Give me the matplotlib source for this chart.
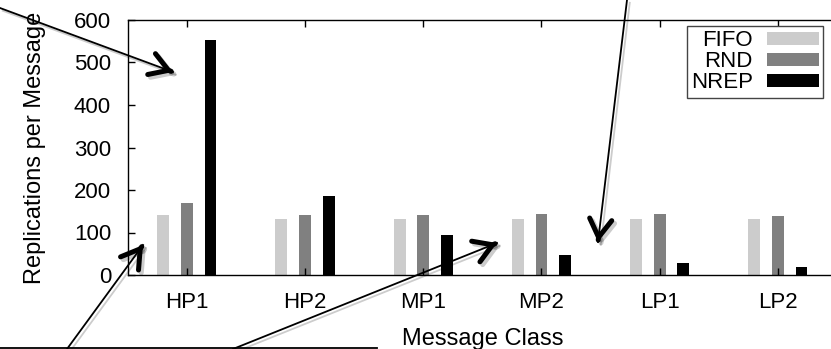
import matplotlib
matplotlib.use("Agg")
import matplotlib.pyplot as plt
import matplotlib.patheffects as pe
from matplotlib.patches import FancyArrowPatch
from matplotlib.lines import Line2D
import numpy as np

plt.rcParams['font.family'] = ['Liberation Sans', 'DejaVu Sans']

# data
classes = ["HP1", "HP2", "MP1", "MP2", "LP1", "LP2"]
fifo = [141, 132, 132, 132, 132, 132]
rnd = [169, 141, 141, 144, 144, 139]
nrep = [553, 186, 94, 47, 28, 19]
series_names = ["FIFO", "RND", "NREP"]
colors = ["#cccccc", "#808080", "#000000"]

W, H = 831, 349
fig = plt.figure(figsize=(W / 100, H / 100), dpi=100)

# axes box runs slightly past the right edge of the image, like the reference
ax = fig.add_axes([127.7 / W, 1 - 275 / H, (837 - 127.7) / W, 255 / H])

x = np.arange(len(classes))
width = 0.1
for i, (vals, name, c) in enumerate(zip([fifo, rnd, nrep], series_names, colors)):
    ax.bar(x + (i - 1) * 0.2, vals, width, color=c, label=name, linewidth=0)

ax.set_xlim(-0.5, len(classes) - 0.5)
ax.set_ylim(0, 600)
ax.set_yticks(range(0, 601, 100))
ax.set_xticks(x)
ax.set_xticklabels(classes)
ax.tick_params(direction="in", length=5, width=1, labelsize=16, top=True, right=False)
ax.tick_params(axis="y", pad=12)
ax.tick_params(axis="x", pad=12)
for s in ax.spines.values():
    s.set_linewidth(1)
ax.set_ylabel("Replications per Message", fontsize=17, labelpad=20)
ax.set_xlabel("Message Class", fontsize=17, labelpad=11)

leg = ax.legend(loc="upper right", bbox_to_anchor=(823 / W, 1 - 26 / H),
                bbox_transform=fig.transFigure, borderaxespad=0,
                markerfirst=False, fontsize=16, handlelength=2.3,
                handleheight=0.55, handletextpad=0.65, labelspacing=0.0,
                borderpad=0.2, fancybox=False, framealpha=1)
leg.get_frame().set_edgecolor("#444444")
leg.get_frame().set_linewidth(1)


# hand drawn callout arrows on top of the chart (pixel coords of the image)
def fp(px, py):
    return (px / W, 1 - py / H)


shadow = [pe.SimpleLineShadow(offset=(2, -2), alpha=0.2, shadow_color="black"), pe.Normal()]

arrows = [((0, 8), (173, 72)),
          ((627, 0), (598, 242)),
          ((67, 349), (143, 245)),
          ((233, 349), (497, 243))]

for (x0, y0), (x1, y1) in arrows:
    fig.add_artist(Line2D([x0 / W, x1 / W], [1 - y0 / H, 1 - y1 / H], color="black",
                          lw=1.3, transform=fig.transFigure, path_effects=shadow))
    d = np.array([x1 - x0, y1 - y0], dtype=float)
    d /= np.hypot(*d)
    head = FancyArrowPatch(fp(x1 - d[0] * 2, y1 - d[1] * 2), fp(x1, y1),
                           arrowstyle="->,head_length=13,head_width=8",
                           mutation_scale=1, lw=3.6, color="black",
                           shrinkA=0, shrinkB=0, transform=fig.transFigure,
                           capstyle="round", joinstyle="round", path_effects=shadow)
    fig.add_artist(head)

fig.add_artist(Line2D([0, 377 / W], [1 - 348 / H, 1 - 348 / H], color="black",
                      lw=1.3, transform=fig.transFigure))

fig.savefig("out.png", dpi=100)
